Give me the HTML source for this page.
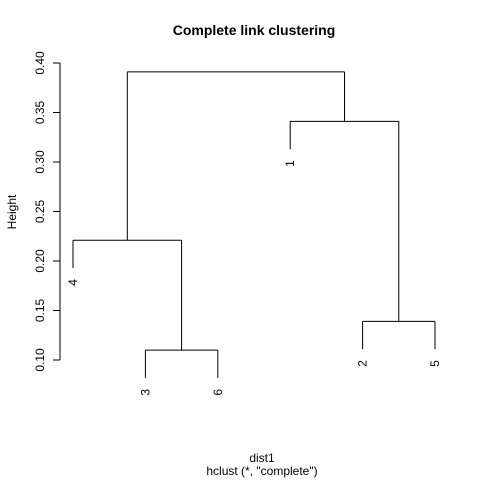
<!DOCTYPE html>
<html><head><meta charset="utf-8"><style>
body{margin:0;background:#fff}
svg text{font-family:"Liberation Sans",Arial,sans-serif;fill:#000}
</style></head><body>
<svg id="c" width="480" height="480" xmlns="http://www.w3.org/2000/svg">
<text x="254" y="35" text-anchor="middle" font-size="14" font-weight="bold">Complete link clustering</text>
<text transform="translate(16,212) rotate(-90)" text-anchor="middle" font-size="12">Height</text>
<text x="262" y="462" text-anchor="middle" font-size="12">dist1</text>
<text x="262" y="475" text-anchor="middle" font-size="12">hclust (*, "complete")</text>
<g id="axis"></g>
<g id="tree"></g>
</svg>
<script>
const leafLabels=["4","3","6","1","2","5"];
const leafIds=[4,3,6,1,2,5];
const mergeLeft=[-3,-2,-4,-1,3];
const mergeRight=[-6,-5,1,2,4];
const mergeHeights=[0.110,0.139,0.221,0.341,0.391];
const yTicks=[0.10,0.15,0.20,0.25,0.30,0.35,0.40];
const tickLabels=["0.10","0.15","0.20","0.25","0.30","0.35","0.40"];
const NS="http://www.w3.org/2000/svg";
const yS=v=>360-(v-0.10)*990;
const xS=i=>73+i*72.4;
const hang=0.1*(Math.max(...mergeHeights)-Math.min(...mergeHeights));
function mk(t,a,p){const e=document.createElementNS(NS,t);for(const k in a)e.setAttribute(k,a[k]);p.appendChild(e);return e;}
const ax=document.getElementById('axis'),tr=document.getElementById('tree');
let l=mk('line',{x1:60,x2:60,y1:yS(yTicks[0]),y2:yS(yTicks[yTicks.length-1]),stroke:'#000'},ax);


yTicks.forEach((v,i)=>{
 const t=mk('line',{x1:53,x2:60,y1:yS(v),y2:yS(v),stroke:'#000'},ax);
 
 
 const tx=mk('text',{transform:`translate(44,${yS(v)}) rotate(-90)`,'text-anchor':'middle','font-size':12},ax);
 tx.textContent=tickLabels[i];
 
 
});
const nodeX=[];
function px(id){return id<0?xS(leafIds.indexOf(-id)):nodeX[id-1];}
function branch(id,parentH){
 const x=px(id);
 let y2;
 if(id<0){y2=yS(parentH-hang);
  const t=mk('text',{transform:`translate(${x+4},${y2+11}) rotate(-90)`,'text-anchor':'end','font-size':12},tr);
  t.textContent=leafLabels[leafIds.indexOf(-id)];
  
  
 } else y2=yS(mergeHeights[id-1]);
 const b=mk('line',{x1:x,x2:x,y1:yS(parentH),y2:y2,stroke:'#000'},tr);
 
 
}
mergeHeights.forEach((h,i)=>{
 const a=px(mergeLeft[i]),b=px(mergeRight[i]);
 nodeX[i]=(a+b)/2;
 const hl=mk('line',{x1:a,x2:b,y1:yS(h),y2:yS(h),stroke:'#000'},tr);
 
 
 branch(mergeLeft[i],h);branch(mergeRight[i],h);
});
</script>
</body></html>
